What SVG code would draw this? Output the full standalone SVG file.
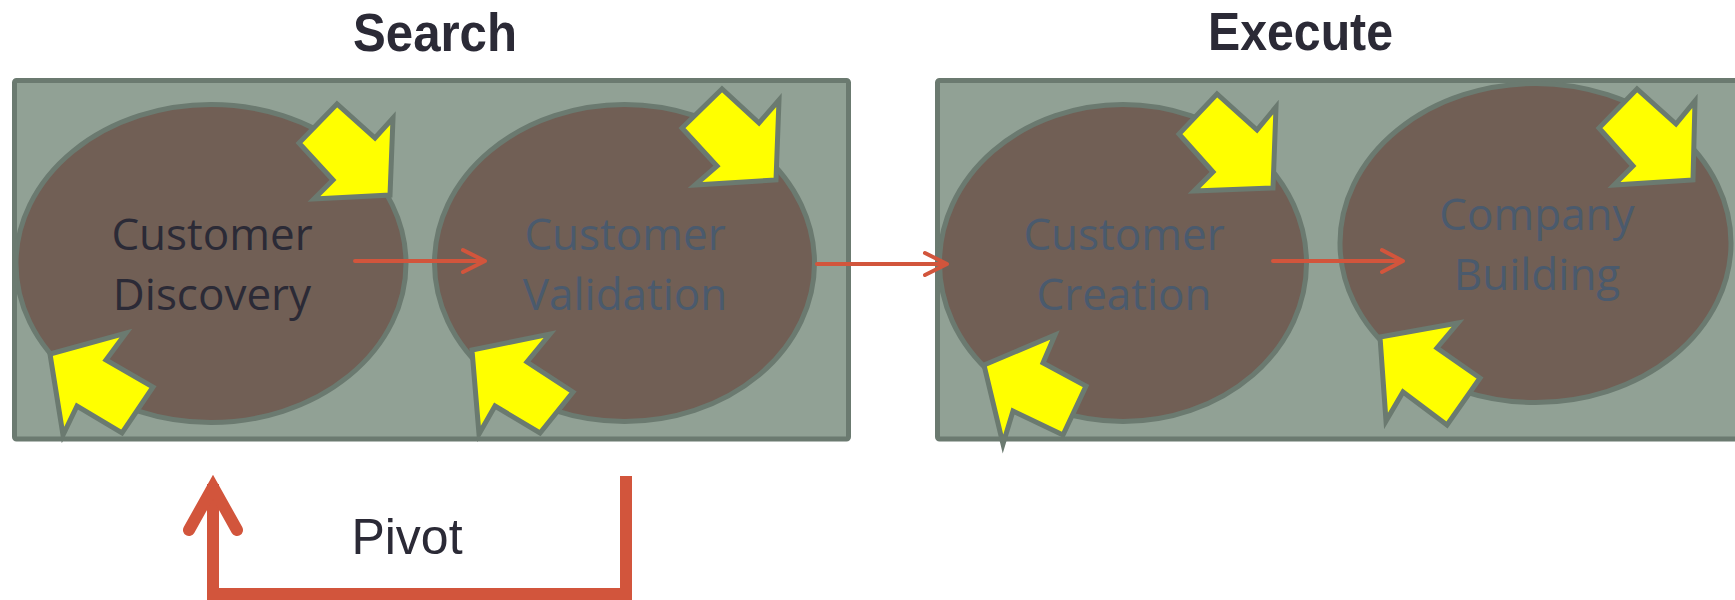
<svg xmlns="http://www.w3.org/2000/svg" width="1735" height="600" viewBox="0 0 1735 600">
<style>
.frame{fill:#91a195;stroke:#6b7a70;stroke-width:5}
.oval{fill:#715f55;stroke:#6b7a70;stroke-width:5}
.yarrow{fill:#ffff00;stroke:#6b7a70;stroke-width:5;stroke-linejoin:miter}
.lbl{font-family:"Open Sans","DejaVu Sans",sans-serif;font-size:44px;text-anchor:middle}
.dark{fill:#2b2a36}
.muted{fill:#4a5a6d}
.title{font-family:"Liberation Sans",Arial,sans-serif;font-weight:bold;font-size:53px;fill:#2b2a36}
.conn{fill:none;stroke:#d2553c;stroke-width:4;stroke-linecap:round;stroke-linejoin:round}
.pivot{fill:none;stroke:#d2553c;stroke-width:12}
</style>
<rect width="1735" height="600" fill="#ffffff"/>
<text class="title" x="353" y="51" textLength="164" lengthAdjust="spacingAndGlyphs">Search</text>
<text class="title" x="1208" y="50" textLength="185" lengthAdjust="spacingAndGlyphs">Execute</text>
<g id="search-frame"><rect class="frame" x="14.5" y="80.5" width="834" height="358.5" rx="2"/></g>
<g id="execute-frame"><rect class="frame" x="937.5" y="80.5" width="810" height="358.5" rx="2"/></g>
<g id="customer-discovery">
<ellipse class="oval" cx="211" cy="263.5" rx="195" ry="159"/>
<polygon class="yarrow" points="337,104 299,143 333,180 314,199 390,195 393,118 375,138"/>
<polygon class="yarrow" points="50,354 126,333 106,360 153,387 122,433 77,406 63,435"/>
<text class="lbl dark" x="212" y="250">Customer</text>
<text class="lbl dark" x="212" y="310">Discovery</text>
</g>
<g id="customer-validation">
<ellipse class="oval" cx="624.5" cy="263" rx="190" ry="158.5"/>
<polygon class="yarrow" points="722,89 682,128 717,166 695,185 776,180 779,100 759,123"/>
<polygon class="yarrow" points="472,350 550,334 527,362 573,392 540,433 495,406 479,434"/>
<text class="lbl muted" x="625" y="250">Customer</text>
<text class="lbl muted" x="625" y="310">Validation</text>
</g>
<g id="customer-creation">
<ellipse class="oval" cx="1123" cy="263" rx="183.5" ry="158.5"/>
<polygon class="yarrow" points="1217,94 1179,134 1213,172 1194,191 1273,188 1276,107 1257,130"/>
<polygon class="yarrow" points="984,365 1055,335 1043,363 1086,386 1063,435 1013,411 1003,444"/>
<text class="lbl muted" x="1124" y="250">Customer</text>
<text class="lbl muted" x="1124" y="310">Creation</text>
</g>
<g id="company-building">
<ellipse class="oval" cx="1535.5" cy="243" rx="195.5" ry="159.5"/>
<polygon class="yarrow" points="1637,89 1599,128 1633,166 1614,185 1693,180 1695,101 1676,124"/>
<polygon class="yarrow" points="1380,337 1458,323 1437,348 1480,378 1447,425 1403,392 1386,421"/>
<text class="lbl muted" x="1537" y="230">Company</text>
<text class="lbl muted" x="1537" y="290">Building</text>
</g>
<g id="connectors">
<path class="conn" d="M355,261 H484 M463,250 L485,261 L463,272"/>
<path class="conn" d="M817,264 H946 M925,253 L947,264 L925,275"/>
<path class="conn" d="M1273,261 H1402 M1382,250 L1403,261 L1382,272"/>
<path class="pivot" d="M626,476 V594 H213 V484"/>
<path fill="none" stroke="#d2553c" stroke-width="12" stroke-linecap="round" stroke-linejoin="miter" d="M189,530 L213,487 L237,530"/>
<path fill="#d2553c" d="M213,477 L219,488 L207,488 Z"/>
<text x="407" y="554" font-family="Liberation Sans, Arial, sans-serif" font-size="50" fill="#2b2a36" text-anchor="middle">Pivot</text>
</g>
</svg>
